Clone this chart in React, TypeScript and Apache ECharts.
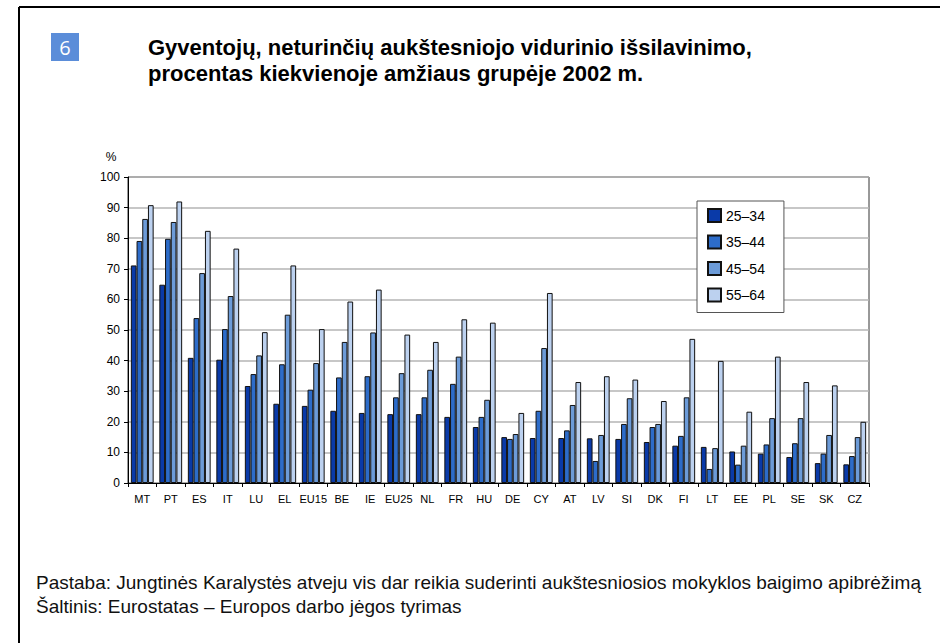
import React, { useEffect, useRef } from "react";
import * as echarts from "echarts";

const categories = ["MT", "PT", "ES", "IT", "LU", "EL", "EU15", "BE", "IE", "EU25", "NL", "FR", "HU", "DE", "CY", "AT", "LV", "SI", "DK", "FI", "LT", "EE", "PL", "SE", "SK", "CZ"];
const seriesNames = ["25–34", "35–44", "45–54", "55–64"];
const age25_34 = [71.1, 64.8, 40.9, 40.3, 31.7, 25.9, 25.2, 23.6, 22.9, 22.5, 22.5, 21.6, 18.3, 15.0, 14.7, 14.7, 14.6, 14.4, 13.4, 12.2, 11.8, 10.3, 9.6, 8.5, 6.5, 6.1];
const age35_44 = [79.1, 79.8, 53.9, 50.3, 35.6, 38.8, 30.5, 34.5, 34.9, 28.0, 28.0, 32.4, 21.6, 14.4, 23.6, 17.2, 7.2, 19.3, 18.3, 15.4, 4.6, 6.0, 12.6, 13.0, 9.6, 8.8];
const age45_54 = [86.3, 85.3, 68.6, 61.1, 41.7, 55.0, 39.2, 46.1, 49.2, 35.9, 37.0, 41.3, 27.2, 16.0, 44.1, 25.5, 15.7, 27.7, 19.3, 28.0, 11.4, 12.2, 21.2, 21.2, 15.7, 15.0];
const age55_64 = [90.8, 92.0, 82.4, 76.6, 49.3, 71.1, 50.3, 59.3, 63.2, 48.5, 46.1, 53.5, 52.4, 22.9, 62.1, 33.0, 34.9, 33.8, 26.8, 47.1, 39.9, 23.3, 41.3, 33.0, 31.9, 20.0];
const yTicks = { min: 0, max: 100, interval: 10 };
const titleLines = ["Gyventojų, neturinčių aukštesniojo vidurinio išsilavinimo,", "procentas kiekvienoje amžiaus grupėje 2002 m."];
const footerLines = ["Pastaba: Jungtinės Karalystės atveju vis dar reikia suderinti aukštesniosios mokyklos baigimo apibrėžimą", "Šaltinis: Eurostatas – Europos darbo jėgos tyrimas"];

const colors = ["#0a3aa8", "#2d6cc9", "#6c9bd8", "#bcd1ef"];
const FONT = "'Liberation Sans', Arial, Helvetica, sans-serif";

export default function App() {
  const ref = useRef<HTMLDivElement>(null);
  useEffect(() => {
    if (!ref.current) return;
    const chart = echarts.init(ref.current, undefined, { renderer: "svg" });
    const data = [age25_34, age35_44, age45_54, age55_64];
    chart.setOption({
      animation: false,
      backgroundColor: "#ffffff",
      textStyle: { fontFamily: FONT },
      grid: { left: 128, top: 177, right: 71, bottom: 160, show: true, borderColor: "#333", borderWidth: 1, backgroundColor: "transparent" },
      legend: {
        orient: "vertical",
        left: 697,
        top: 201,
        padding: [7, 19, 10, 10],
        itemWidth: 13,
        itemHeight: 13,
        itemGap: 11.5,
        icon: "rect",
        backgroundColor: "#fff",
        borderColor: "#555",
        borderWidth: 1,
        textStyle: { fontSize: 14, color: "#000", fontFamily: FONT },
        data: seriesNames,
      },
      xAxis: {
        type: "category",
        data: categories,
        boundaryGap: true,
        axisLine: { show: true, lineStyle: { color: "#000", width: 1 } },
        axisTick: { show: true, length: 4, interval: 0, lineStyle: { color: "#000" } },
        axisLabel: { interval: 0, fontSize: 11, color: "#000", margin: 10, fontFamily: FONT },
      },
      yAxis: {
        type: "value",
        min: yTicks.min,
        max: yTicks.max,
        interval: yTicks.interval,
        axisLine: { show: true, lineStyle: { color: "#000", width: 1 } },
        axisTick: { show: true, length: 4, lineStyle: { color: "#000" } },
        axisLabel: { fontSize: 12, color: "#000", margin: 8, fontFamily: FONT },
        splitLine: { show: true, lineStyle: { color: "#b5b5b5", width: 1.5 } },
      },
      series: seriesNames.map((name, i) => ({
        name,
        type: "bar",
        data: data[i],
        barGap: "0%",
        barCategoryGap: "20%",
        itemStyle: { color: colors[i], borderColor: "#111", borderWidth: 1 },
      })),
      graphic: [
        { type: "line", shape: { x1: 19, y1: 7, x2: 940, y2: 7 }, style: { stroke: "#000", lineWidth: 2 } },
        { type: "line", shape: { x1: 19, y1: 7, x2: 19, y2: 643 }, style: { stroke: "#000", lineWidth: 2 } },
        { type: "rect", shape: { x: 51, y: 33, width: 28, height: 28 }, style: { fill: "#5b8dd9" } },
        { type: "text", x: 65, y: 47, style: { text: "6", fill: "#fff", fontSize: 20, fontFamily: "'Open Sans', sans-serif", align: "center", verticalAlign: "middle" } },
        { type: "text", x: 148, y: 47, style: { text: titleLines[0], fill: "#000", fontSize: 22, fontWeight: "bold", fontFamily: FONT, verticalAlign: "middle" } },
        { type: "text", x: 148, y: 73, style: { text: titleLines[1], fill: "#000", fontSize: 22, fontWeight: "bold", fontFamily: FONT, verticalAlign: "middle" } },
        { type: "text", x: 111, y: 157, style: { text: "%", fill: "#000", fontSize: 12, fontFamily: FONT, align: "center", verticalAlign: "middle" } },
        { type: "text", x: 36, y: 582, style: { text: footerLines[0], fill: "#111", fontSize: 19, fontFamily: FONT, verticalAlign: "middle" } },
        { type: "text", x: 36, y: 606, style: { text: footerLines[1], fill: "#111", fontSize: 19, fontFamily: FONT, verticalAlign: "middle" } },
      ],
    });
    return () => chart.dispose();
  }, []);
  return <div ref={ref} style={{ position: "fixed", left: 0, top: 0, width: 940, height: 643 }} />;
}
